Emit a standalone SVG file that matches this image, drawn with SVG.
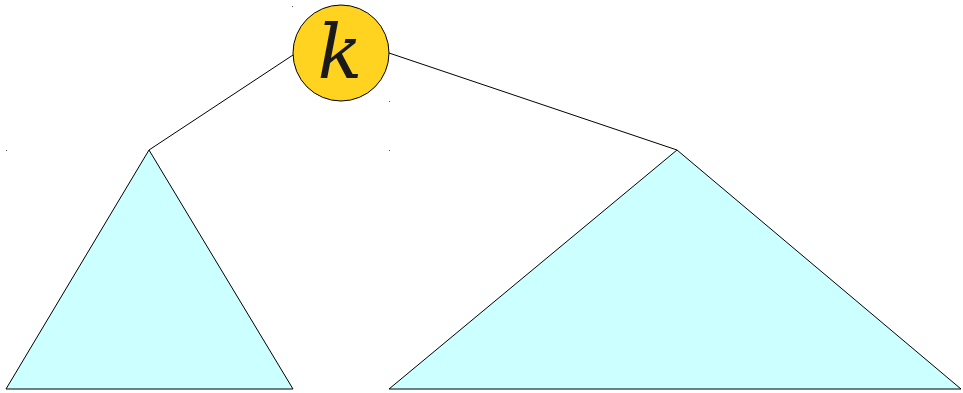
<svg xmlns="http://www.w3.org/2000/svg" width="963" height="393" viewBox="0 0 963 393">
<style>
.tri{fill:#ccffff;stroke:#000;stroke-width:1}
.edge{stroke:#000;stroke-width:1;fill:none}
.dot{fill:#555}
</style>
<rect width="963" height="393" fill="#fff"/>
<g id="connectors">
<line class="edge" x1="293" y1="55" x2="149" y2="150"/>
<line class="edge" x1="389" y1="53" x2="677" y2="150"/>
</g>
<g id="left-subtree">
<polygon class="tri" points="149,150 293,389 6,389"/>
</g>
<g id="right-subtree">
<polygon class="tri" points="677,150 961,389 389,389"/>
</g>
<g id="root">
<circle cx="341" cy="53" r="48" fill="#ffd320" stroke="#000" stroke-width="1"/>
<text x="340" y="78" text-anchor="middle" font-family="DejaVu Serif, serif" font-style="italic" font-size="74" fill="#1a1a1a">k</text>
</g>
<rect class="dot" x="292" y="6" width="1" height="1"/>
<rect class="dot" x="389" y="101" width="1" height="1"/>
<rect class="dot" x="6" y="150" width="1" height="1"/>
<rect class="dot" x="389" y="150" width="1" height="1"/>
</svg>
